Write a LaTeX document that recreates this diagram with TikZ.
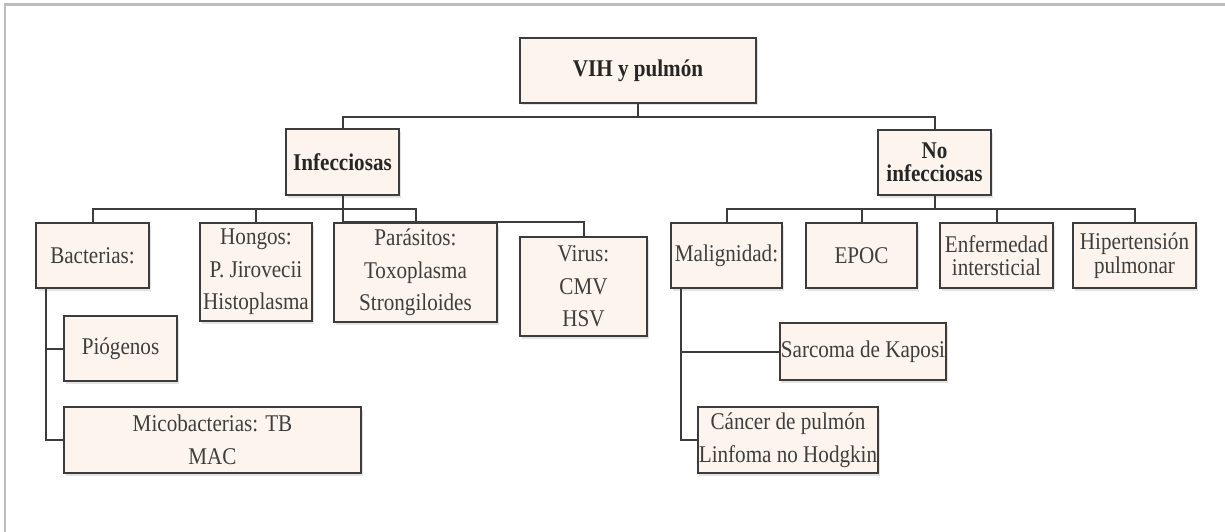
\documentclass[tikz,border=0pt]{standalone}
\usepackage{fontspec}
\setmainfont[FakeStretch=0.88]{Liberation Serif}
\usepackage{tikz}
\usetikzlibrary{shadows}
\definecolor{boxfill}{RGB}{253,245,237}
\definecolor{boxline}{RGB}{60,60,60}
\definecolor{boxtext}{RGB}{62,62,62}
\definecolor{framegray}{RGB}{188,188,194}

\begin{document}
\begin{tikzpicture}[
        x=1pt, y=-1pt,
        box/.style={draw=boxline, line width=2.4pt, fill=boxfill, text=boxtext,
            align=center, inner sep=1pt, font=\fontsize{24}{32.5}\selectfont,
            drop shadow={opacity=0.22, shadow xshift=1.5pt, shadow yshift=-2.5pt}},
        head/.style={box, text=black!85, font=\fontsize{24}{23.5}\selectfont\bfseries},
        tight/.style={font=\fontsize{24}{23.5}\selectfont},
    ]
    \tikzstyle{conn}=[draw=boxline, line width=2pt]
    \useasboundingbox (0,0) rectangle (1225,532);
    \draw[framegray, line width=2.5pt] (5,532) -- (5,4.5) -- (1225,4.5);

    \node[head, minimum width=236pt, minimum height=65pt] (root) at (638,70.5) {VIH y pulmón};
    \node[head, minimum width=113pt, minimum height=66pt] (inf) at (342.5,162) {Infecciosas};
    \node[head, minimum width=113pt, minimum height=65pt] (noinf) at (934.5,162.5) {No\\infecciosas};

    % infecciosas
    \node[box, minimum width=113pt, minimum height=65pt] (bact) at (92.5,255.5) {Bacterias:};
    \node[box, minimum width=112pt, minimum height=98pt] (hongos) at (256,272) {Hongos:\\P. Jirovecii\\Histoplasma};
    \node[box, minimum width=163pt, minimum height=99pt] (paras) at (415.5,272.5) {Parásitos:\\Toxoplasma\\Strongiloides};
    \node[box, minimum width=127pt, minimum height=99pt] (virus) at (583.5,286.5) {Virus:\\CMV\\HSV};
    \node[box, minimum width=113pt, minimum height=65pt] (piog) at (120.5,348.5) {Piógenos};
    \node[box, minimum width=297pt, minimum height=66pt] (mico) at (212.5,440) {Micobacterias: TB\\MAC};

    % no infecciosas
    \node[box, minimum width=111pt, minimum height=65pt] (malig) at (726.5,255.5) {Malignidad:};
    \node[box, minimum width=111pt, minimum height=65pt] (epoc) at (861.5,255.5) {EPOC};
    \node[box, tight, minimum width=113pt, minimum height=65pt] (enf) at (996.5,255.5) {Enfermedad\\intersticial};
    \node[box, tight, minimum width=123pt, minimum height=65pt] (hip) at (1134.5,255.5) {Hipertensión\\pulmonar};
    \node[box, minimum width=162pt, minimum height=57pt] (sarc) at (863,351.5) {Sarcoma de Kaposi};
    \node[box, minimum width=180pt, minimum height=66pt] (cancer) at (788,440) {Cáncer de pulmón\\Linfoma no Hodgkin};

    % connectors
    \coordinate (rootbus) at (638,117);
    \coordinate (infbus) at (342.5,209);
    \coordinate (nibus) at (934.5,208.5);
    \coordinate (btrunk) at ([xshift=11.5pt]bact.south west);
    \coordinate (mtrunk) at ([xshift=11pt]malig.south west);

    \draw[conn] (root.south) -- (rootbus);
    \draw[conn] (inf.north) |- (rootbus) -| (noinf.north);

    \draw[conn] (bact.north) |- (infbus) -| (paras.north);
    \draw[conn] (hongos.north) -- (hongos.north |- infbus);
    \draw[conn] (inf.south) -- (inf.south |- paras.north) -| (virus.north);
    \draw[conn] (btrunk) |- (mico.west);
    \draw[conn] (piog.west) -- (piog.west -| btrunk);

    \draw[conn] (noinf.south) -- (nibus);
    \draw[conn] (malig.north) |- (nibus) -| (hip.north);
    \draw[conn] (epoc.north) -- (epoc.north |- nibus);
    \draw[conn] (enf.north) -- (enf.north |- nibus);
    \draw[conn] (mtrunk) |- (cancer.west);
    \draw[conn] (sarc.west) -- (sarc.west -| mtrunk);
\end{tikzpicture}
\end{document}
